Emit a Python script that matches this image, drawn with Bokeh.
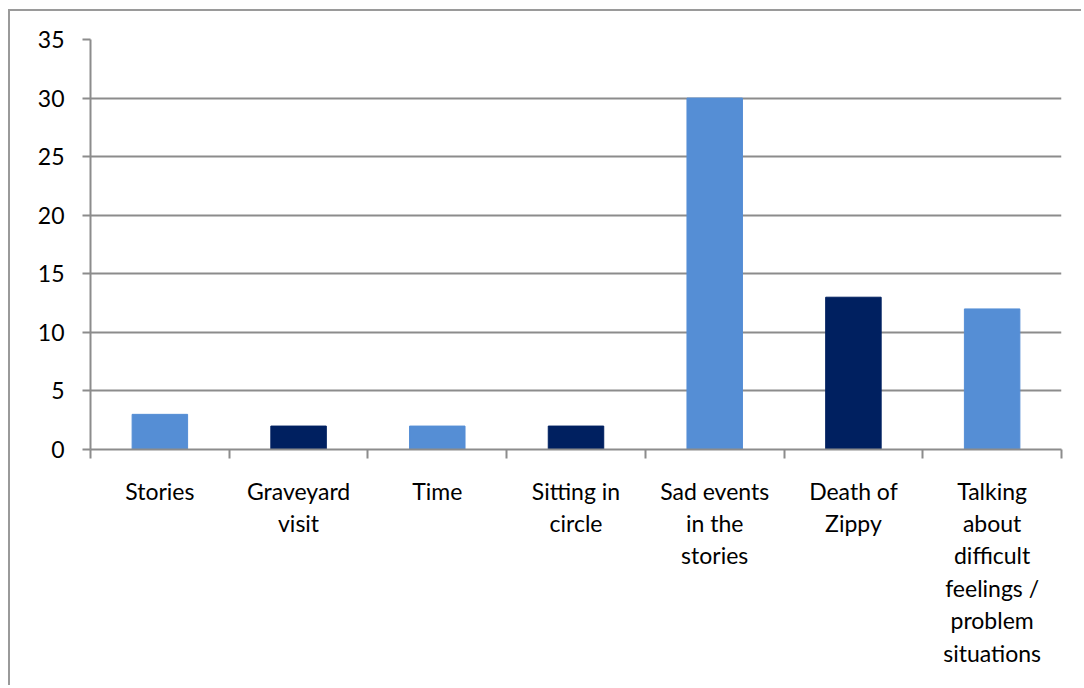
from bokeh.plotting import figure
from bokeh.models import FixedTicker, Range1d, ColumnDataSource
from bokeh.embed import file_html
from bokeh.resources import INLINE

categories = ["Stories", "Graveyard\nvisit", "Time", "Sitting in\ncircle",
              "Sad events\nin the\nstories", "Death of\nZippy",
              "Talking\nabout\ndifficult\nfeelings /\nproblem\nsituations"]
values = [3, 2, 2, 2, 30, 13, 12]
colors = ["#558ED5", "#002060", "#558ED5", "#002060", "#558ED5", "#002060", "#558ED5"]
y_ticks = [0, 5, 10, 15, 20, 25, 30, 35]

n = len(categories)
xs = [i + 0.5 for i in range(n)]
src = ColumnDataSource(dict(x=xs, top=values, color=colors))

p = figure(width=1073, height=676, output_backend="svg", toolbar_location=None,
           x_range=Range1d(0, n), y_range=Range1d(0, 35),
           min_border_left=80, min_border_right=22, min_border_top=28, min_border_bottom=238)
p.margin = (9, 0, 0, 8)
p.styles = {"border-left": "2px solid #9a9a9a", "border-top": "2px solid #9a9a9a"}
p.outline_line_color = None
p.background_fill_color = "white"
p.border_fill_color = "white"

p.vbar(x="x", top="top", bottom=0, width=0.4, color="color", source=src)

grid_col = "#8c8c8c"
p.xgrid.visible = False
p.ygrid.ticker = FixedTicker(ticks=y_ticks)
p.ygrid.grid_line_color = grid_col
p.ygrid.grid_line_width = 2

p.yaxis.ticker = FixedTicker(ticks=y_ticks)
p.yaxis.axis_line_color = grid_col
p.yaxis.axis_line_width = 2
p.yaxis.major_tick_line_color = grid_col
p.yaxis.major_tick_line_width = 2
p.yaxis.major_tick_in = 0
p.yaxis.major_tick_out = 8
p.yaxis.minor_tick_line_color = None
p.yaxis.major_label_standoff = 18
p.yaxis.major_label_text_font = "Lato"
p.yaxis.major_label_text_font_size = "23px"
p.yaxis.major_label_text_color = "black"

p.xaxis.ticker = FixedTicker(ticks=xs, minor_ticks=list(range(n + 1)))
p.xaxis.major_label_overrides = {x: c for x, c in zip(xs, categories)}
p.xaxis.axis_line_color = grid_col
p.xaxis.axis_line_width = 2
p.xaxis.major_tick_line_color = None
p.xaxis.major_tick_in = 0
p.xaxis.major_tick_out = 0
p.xaxis.minor_tick_line_color = grid_col
p.xaxis.minor_tick_line_width = 2
p.xaxis.minor_tick_in = 0
p.xaxis.minor_tick_out = 9
p.xaxis.major_label_standoff = 18
p.xaxis.major_label_text_font = "Lato"
p.xaxis.major_label_text_font_size = "23px"
p.xaxis.major_label_text_color = "black"
p.xaxis.major_label_text_line_height = 1.16
p.xaxis.major_label_text_align = "center"

open("out.html", "w").write(file_html(p, INLINE))
